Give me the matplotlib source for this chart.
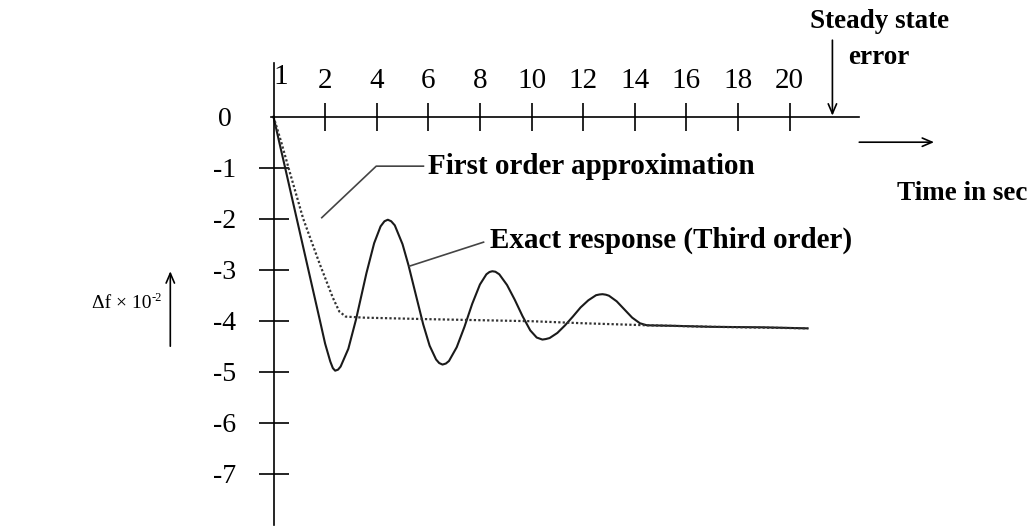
import matplotlib.pyplot as plt

plt.rcParams['font.family'] = ['Liberation Serif', 'DejaVu Serif']

# Exact (third order) frequency deviation response, time in sec vs delta f (x 10^-2)
t_exact = [0, 0.2, 0.45, 0.9, 1.35, 1.8, 2.0, 2.2, 2.3, 2.39, 2.5, 2.6, 2.9, 3.2, 3.4, 3.6,
           3.9, 4.15, 4.3, 4.43, 4.56, 4.7, 5.0, 5.23, 5.5, 5.8, 6.05, 6.3, 6.42, 6.55, 6.68,
           6.8, 7.1, 7.4, 7.7, 8.0, 8.25, 8.37, 8.48, 8.6, 8.75, 9.05, 9.35, 9.65, 9.95, 10.2,
           10.31, 10.42, 10.55, 10.7, 11.0, 11.3, 11.6, 11.9, 12.2, 12.5, 12.63, 12.75, 12.88,
           13.0, 13.3, 13.6, 13.9, 14.2, 14.47, 15.5, 17.0, 19.0, 20.7]
f_exact = [0, -0.45, -1.0, -2.0, -3.0, -4.0, -4.45, -4.8, -4.93, -4.98, -4.96, -4.90, -4.55,
           -3.97, -3.52, -3.07, -2.48, -2.15, -2.05, -2.02, -2.05, -2.13, -2.50, -2.91, -3.46,
           -4.07, -4.49, -4.76, -4.83, -4.86, -4.84, -4.79, -4.52, -4.12, -3.67, -3.29, -3.09,
           -3.045, -3.03, -3.04, -3.09, -3.30, -3.59, -3.91, -4.19, -4.33, -4.35, -4.37, -4.36,
           -4.34, -4.24, -4.09, -3.92, -3.74, -3.60, -3.50, -3.486, -3.48, -3.49, -3.51, -3.62,
           -3.78, -3.94, -4.05, -4.09, -4.10, -4.12, -4.13, -4.15]

# First order approximation
t_first = [0, 0.3, 0.58, 1.15, 1.8, 2.3, 2.55, 2.8, 3.5, 6.0, 8.0, 10.0, 12.0, 14.5, 17.0, 20.7]
f_first = [0, -0.5, -1.0, -2.0, -2.9, -3.55, -3.82, -3.92, -3.94, -3.97, -3.99, -4.01, -4.05,
           -4.09, -4.12, -4.15]

x_ticks = [2, 4, 6, 8, 10, 12, 14, 16, 18, 20]
y_ticks = [-7, -6, -5, -4, -3, -2, -1, 0]
y_labels = ['-7', '-6', '-5', '-4', '-3', '-2', '-1', '0']

fig = plt.figure(figsize=(10.36, 5.29), dpi=100)
ax = fig.add_axes([0, 0, 1, 1])
ax.set_xlim(-10.6, 29.55)
ax.set_ylim(-8.084, 2.288)
ax.patch.set_alpha(0)

# axes crossing at the origin
for side in ['left', 'bottom', 'top']:
    ax.spines[side].set_position(('data', 0))
ax.spines['right'].set_visible(False)
ax.spines['top'].set_visible(False)
ax.spines['left'].set_bounds(-8.0, 1.05)
ax.spines['bottom'].set_bounds(-0.1, 22.7)
ax.spines['left'].set_linewidth(1.2)
ax.spines['bottom'].set_linewidth(1.2)

ax.xaxis.set_ticks_position('top')
ax.set_xticks(x_ticks)
ax.set_xticklabels([str(v) for v in x_ticks])
ax.tick_params(axis='x', direction='inout', length=20, width=1.2, pad=6.5, labelsize=21)

ax.yaxis.set_ticks_position('left')
ax.set_yticks(y_ticks)
ax.set_yticklabels(y_labels)
ax.tick_params(axis='y', direction='inout', length=22, width=1.2, pad=24, labelsize=20)
for lab in ax.get_yticklabels():
    lab.set_horizontalalignment('center')
ax.yaxis.get_major_ticks()[-1].tick1line.set_visible(False)

ax.text(0.28, 0.77, '1', fontsize=21, ha='center', va='center')

# response curves
ax.plot(t_exact, f_exact, color='#1a1a1a', lw=1.5)
ax.plot(t_first, f_first, color='#333333', lw=1.6, linestyle=(0, (1, 1)))

# labels with leader lines
ax.plot([1.87, 3.98, 5.81], [-1.98, -0.97, -0.97], color='#444444', lw=1.2)
ax.text(5.98, -0.97, 'First order approximation', fontsize=21, fontweight='bold',
        ha='left', va='center')
ax.plot([5.27, 8.14], [-2.93, -2.46], color='#444444', lw=1.2)
ax.text(8.39, -2.42, 'Exact response (Third order)', fontsize=21, fontweight='bold',
        ha='left', va='center')

# steady state error marker
arrow = dict(arrowstyle='->,head_length=0.7,head_width=0.3', lw=1.2, color='black',
             shrinkA=0, shrinkB=0)
ax.annotate('', xy=(21.66, 0.02), xytext=(21.66, 1.5), arrowprops=arrow)
ax.text(23.5, 1.857, 'Steady state', fontsize=19.5, fontweight='bold', ha='center', va='center')
ax.text(23.44, 1.17, 'error', fontsize=19.5, fontweight='bold', ha='center', va='center')

# axis names
ax.annotate('', xy=(25.6, -0.5), xytext=(22.7, -0.5), arrowprops=arrow)
ax.text(26.7, -1.51, 'Time in sec', fontsize=19.5, fontweight='bold', ha='center', va='center')

ax.annotate('', xy=(-4.0, -3.03), xytext=(-4.0, -4.5), arrowprops=arrow)
ylab = ax.text(-7.03, -3.66, 'Δf × 10', fontsize=14, ha='left', va='center')
ax.annotate('-2', xy=(1.0, 0.8), xycoords=ylab, fontsize=9, ha='left', va='center')

fig.savefig('out.png', dpi=100)
